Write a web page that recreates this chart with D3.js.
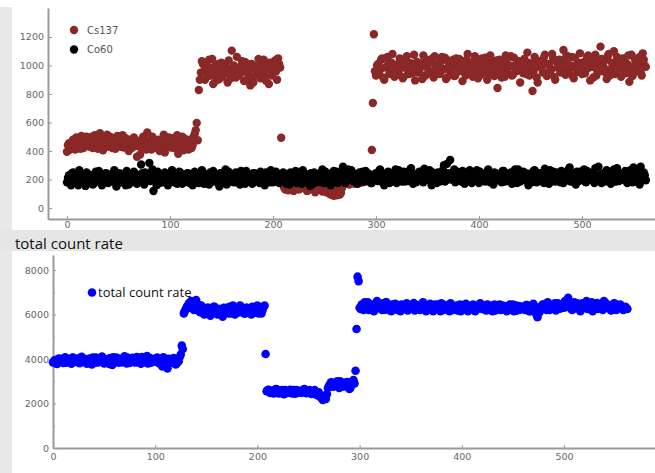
<!DOCTYPE html>
<html>
<head>
<meta charset="utf-8">
<script src="https://cdn.jsdelivr.net/npm/d3@7"></script>
<style>
  body { margin: 0; background: #fff; }
  svg { display: block; }
</style>
</head>
<body>
<div id="chart"></div>
<script>
// readings at even x (0, 2, 4 ... 562) and odd x (1, 3, 5 ... 561)
const cs137Even = [
  395, 455, 430, 480, 410, 470, 440, 505, 420, 460,
  485, 430, 500, 445, 470, 415, 525, 455, 480, 440,
  465, 500, 420, 490, 450, 475, 430, 510, 455, 470,
  400, 480, 440, 455, 360, 470, 425, 500, 445, 530,
  460, 410, 485, 435, 470, 400, 455, 515, 430, 475,
  445, 490, 420, 465, 380, 450, 500, 425, 470, 410,
  480, 440, 520, 597,
  828, 950, 1010, 900, 980, 1040, 930, 870, 995, 960,
  905, 1020, 945, 990, 880, 960, 1104, 1000, 915, 975,
  940, 1030, 890, 985, 950, 860, 1005, 925, 970, 1045,
  910, 980, 935, 1015, 870, 990, 950, 1035, 900, 1010,
  493,
  160, 130, 180, 145, 200, 120, 170, 150, 135, 190,
  140, 175, 125, 160, 205, 145, 130, 185, 150, 115,
  165, 110, 140, 95, 150, 120, 90, 135, 105, 170,
  190, 210, 165, 220, 180, 200, 230, 175, 215, 195,
  185, 220, 205,
  407, 1219,
  930, 1010, 970, 1050, 900, 990, 1030, 950, 1080, 920,
  1000, 960, 1040, 910, 985, 1065, 940, 1015, 970, 895,
  1025, 955, 990, 1070, 930, 1005, 960, 1045, 915, 980,
  1010, 940, 1060, 975, 905, 1035, 960, 995, 925, 1050,
  970, 1015, 890, 985, 1040, 950, 1000, 920, 1065, 960,
  1020, 935, 990, 1055, 900, 975, 1030, 945, 1005, 842,
  1040, 915, 985, 1070, 950, 1000, 930, 1055, 970, 1010,
  880, 995, 1045, 940, 1020, 965, 821, 1060, 915, 990,
  1030, 950, 1075, 925, 1005, 970, 1050, 900, 985, 1040,
  960, 1109, 935, 1015, 980, 1060, 910, 1000, 955, 1085,
  940, 1025, 970, 1070, 895, 990, 1045, 930, 1010, 1132,
  960, 1035, 905, 1080, 975, 1015, 940, 1060, 990, 920,
  1050, 965, 1010, 885, 1075, 945, 1025, 980, 1060, 930,
  1040, 990
];
const cs137Odd = [
  440, 410, 465, 425, 495, 450, 415, 480, 435, 500,
  455, 475, 420, 510, 440, 490, 460, 405, 470, 515,
  430, 480, 455, 415, 505, 445, 470, 425, 490, 440,
  460, 420, 495, 435, 470, 375, 450, 485, 410, 465,
  440, 500, 455, 420, 480, 445, 470, 390, 460, 495,
  425, 470, 450, 510, 435, 465, 405, 485, 440, 455,
  420, 500, 545, 475,
  900, 1030, 960, 1000, 925, 985, 1045, 945, 895, 1010,
  970, 920, 1000, 950, 1035, 910, 985, 940, 1060, 930,
  995, 955, 1025, 905, 970, 1010, 880, 990, 935, 1000,
  960, 1040, 895, 975, 1020, 930, 1000, 960, 1050, 985,
  175, 140, 195, 125, 160, 210, 145, 180, 130, 165,
  195, 150, 120, 185, 140, 170, 110, 155, 200, 135,
  145, 125, 160, 100, 130, 85, 115, 150, 95, 140,
  175, 205, 225, 185, 200, 170, 215, 190, 235, 180,
  210, 195, 225, 190,
  737, 960,
  1000, 955, 1040, 915, 985, 1060, 940, 1020, 975, 1005,
  935, 1050, 990, 920, 1030, 965, 1010, 945, 1075, 985,
  950, 1015, 905, 995, 1040, 965, 1020, 935, 1065, 990,
  945, 1025, 970, 1055, 915, 1000, 980, 1040, 930, 1010,
  1045, 960, 1005, 930, 1080, 975, 950, 1030, 985, 910,
  995, 1050, 960, 1015, 940, 1070, 985, 925, 1035, 975,
  955, 1010, 920, 1045, 990, 1065, 935, 1000, 960, 1030,
  1015, 945, 975, 1090, 930, 1005, 960, 1040, 880, 1020,
  985, 1055, 940, 1010, 965, 1080, 920, 1030, 995, 950,
  1035, 980, 1070, 945, 1000, 925, 1055, 970, 1020, 960,
  1010, 945, 1060, 985, 1030, 915, 1075, 960, 1000, 1045,
  990, 950, 1065, 930, 1020, 1100, 960, 1005, 1045, 975,
  1005, 945, 1070, 990, 925, 1050, 970, 1015, 950, 1085,
  1000
];

const co60Even = [
  180, 230, 160, 250, 200, 175, 265, 190, 215, 155,
  240, 185, 210, 170, 255, 195, 225, 160, 205, 245,
  175, 220, 190, 265, 150, 210, 235, 180, 200, 260,
  165, 225, 195, 240, 170, 215, 305, 185, 250, 200,
  316, 230, 119, 205, 255, 175, 220, 190, 240, 160,
  210, 265, 180, 230, 195, 250, 170, 215, 185, 240,
  200, 160, 255, 225, 175, 210, 245, 190, 230, 165,
  220, 260, 185, 205, 150, 240, 195, 270, 175, 215,
  230, 180, 250, 200, 165, 235, 210, 260, 190, 225,
  170, 245, 205, 185, 255, 220, 160, 235, 195, 265,
  180, 215, 240, 175, 200, 250, 190, 225, 165, 230,
  205, 260, 185, 220, 170, 245, 195, 235, 155, 210,
  250, 180, 225, 200, 270, 175, 215, 240, 160, 230,
  195, 255, 185, 220, 290, 175, 240, 205, 265, 190,
  225, 170, 250, 210, 185, 260, 195, 235, 175, 220,
  245, 190, 270, 205, 160, 230, 255, 180, 215, 240,
  175, 265, 200, 225, 185, 250, 210, 280, 170, 235,
  195, 255, 220, 180, 240, 205, 265, 160, 230, 210,
  250, 185, 225, 300, 195, 245, 337, 215, 270, 190,
  235, 205, 260, 170, 220, 250, 185, 230, 200, 265,
  175, 240, 210, 185, 255, 195, 225, 165, 245, 205,
  230, 180, 260, 215, 190, 245, 170, 235, 205, 270,
  185, 225, 250, 195, 160, 240, 210, 265, 180, 220,
  245, 190, 275, 205, 170, 235, 255, 185, 225, 200,
  260, 175, 230, 210, 285, 190, 245, 165, 220, 255,
  200, 270, 180, 235, 210, 250, 175, 225, 290, 195,
  240, 185, 265, 215, 170, 250, 205, 280, 190, 230,
  210, 260, 175, 245, 200, 285, 185, 235, 165, 225,
  250, 195
];
const co60Odd = [
  210, 170, 245, 195, 225, 160, 235, 205, 185, 250,
  200, 230, 165, 215, 190, 260, 175, 220, 240, 195,
  230, 185, 250, 205, 170, 245, 190, 220, 160, 235,
  215, 180, 255, 200, 230, 185, 245, 165, 225, 210,
  190, 270, 200, 160, 235, 215, 180, 250, 205, 225,
  185, 240, 215, 170, 255, 200, 230, 190, 245, 175,
  225, 205, 180, 240, 195, 265, 170, 220, 205, 250,
  185, 230, 210, 175, 245, 200, 225, 165, 255, 195,
  210, 240, 180, 225, 260, 195, 170, 235, 205, 185,
  245, 200, 225, 175, 215, 190, 250, 210, 180, 230,
  205, 255, 185, 220, 195, 240, 170, 210, 250, 190,
  230, 175, 215, 200, 265, 185, 225, 205, 245, 170,
  220, 195, 240, 180, 210, 255, 190, 225, 200, 260,
  215, 175, 245, 200, 230, 185, 270, 210, 195, 240,
  180, 225, 205, 255, 190, 215, 240, 175, 230, 200,
  215, 260, 185, 235, 200, 250, 175, 220, 195, 270,
  205, 240, 185, 255, 220, 190, 265, 200, 230, 180,
  245, 210, 185, 275, 200, 225, 190, 250, 215, 175,
  230, 205, 265, 185, 310, 220, 200, 240, 180, 255,
  210, 185, 245, 225, 195, 265, 175, 215, 240, 200,
  255, 190, 230, 205, 270, 180, 220, 250, 195, 235,
  200, 260, 185, 225, 210, 250, 190, 270, 175, 230,
  215, 255, 195, 240, 205, 180, 260, 220, 190, 245,
  210, 175, 230, 200, 265, 190, 220, 250, 205, 180,
  235, 215, 195, 270, 185, 225, 205, 255, 190, 240,
  225, 185, 260, 200, 240, 215, 280, 195, 230, 175,
  210, 255, 190, 235, 205, 270, 185, 225, 245, 200,
  240, 190, 225, 265, 180, 215, 255, 200, 290, 210,
  230
];

const totalEven = [
  3850, 3950, 3780, 4020, 3900, 3820, 4080, 3880, 3960, 3790,
  4050, 3870, 3930, 3810, 4100, 3900, 3980, 3840, 4020, 3760,
  3950, 4060, 3850, 3920, 4110, 3800, 3990, 3870, 4040, 3730,
  3900, 4070, 3830, 3960, 3880, 4120, 3800, 3980, 3910, 4050,
  3850, 4090, 3940, 3790, 4010, 3870, 4130, 3920, 3830, 4000,
  3890, 4060, 3800, 3950, 4080, 3860, 3580, 3990, 3900, 4040,
  3760, 3950, 4090, 4600,
  6050, 6250, 6400, 6300, 6550, 6200, 6650, 6450, 6100, 6350,
  6000, 6200, 6300, 5950, 6150, 6350, 6050, 6250, 6100, 5900,
  6200, 6300, 6050, 6150, 6400, 6000, 6250, 6100, 6350, 6150,
  6050, 6300, 6200, 6000, 6250, 6100, 6400, 6150, 6050, 6350,
  4225,
  2600, 2500, 2550, 2450, 2650, 2520, 2480, 2600, 2420, 2560,
  2500, 2620, 2450, 2540, 2600, 2480, 2570, 2510, 2650, 2460,
  2580, 2520, 2450, 2600, 2380, 2500, 2350, 2160, 2250, 2420,
  2800, 2950, 2750, 2880, 3000, 2700, 2850, 2920, 2780, 2960,
  2650, 2900, 3050,
  3475, 7700,
  6300, 6450, 6200, 6380, 6550, 6250, 6400, 6150, 6500, 6300,
  6420, 6200, 6350, 6560, 6280, 6180, 6450, 6320, 6250, 6400,
  6150, 6380, 6280, 6500, 6220, 6350, 6450, 6180, 6300, 6420,
  6250, 6550, 6320, 6200, 6400, 6280, 6150, 6450, 6330, 6250,
  6500, 6200, 6380, 6300, 6150, 6420, 6260, 6350, 6180, 6450,
  6300, 6220, 6480, 6150, 6350, 6280, 6400, 6200, 6330, 6500,
  6250, 6380, 6180, 6420, 6300, 6150, 6450, 6250, 6350, 6200,
  6400, 6280, 6150, 6330, 6220, 6450, 6300, 6180, 6380, 6260,
  6350, 6200, 6420, 6150, 6300, 6480, 6250, 5880, 6100, 6380,
  6450, 6280, 6550, 6200, 6400, 6320, 6180, 6500, 6260, 6420,
  6300, 6480, 6750, 6350, 6200, 6550, 6280, 6420, 6150, 6500,
  6330, 6600, 6250, 6450, 6150, 6380, 6520, 6280, 6400, 6200,
  6550, 6300, 6420, 6180, 6350, 6480, 6250, 6400, 6300, 6200,
  6350, 6250
];
const totalOdd = [
  3920, 3800, 4000, 3870, 3950, 4040, 3830, 3990, 3900, 4070,
  3880, 3960, 4030, 3850, 3940, 4010, 3790, 3970, 3890, 4060,
  3830, 3980, 3900, 4050, 3860, 3930, 4000, 3780, 3950, 4080,
  3870, 3940, 4010, 3850, 3990, 3900, 4060, 3820, 3960, 3880,
  4020, 3840, 3970, 4090, 3860, 3950, 3800, 4040, 3910, 3970,
  4030, 3850, 3920, 3660, 3980, 3880, 4010, 3820, 3940, 3870,
  3800, 3900, 4200, 4450,
  6150, 6350, 6500, 6600, 6250, 6450, 6300, 6150, 6400, 6200,
  6100, 6300, 6050, 6200, 6350, 6150, 6000, 6250, 6150, 6300,
  6100, 6250, 6350, 6050, 6200, 6300, 6100, 6400, 6200, 6050,
  6300, 6150, 6250, 6350, 6100, 6200, 6050, 6300, 6200, 6400,
  2550, 2620, 2470, 2580, 2520, 2640, 2450, 2550, 2500, 2610,
  2470, 2560, 2530, 2600, 2440, 2580, 2520, 2490, 2620, 2550,
  2500, 2600, 2430, 2540, 2480, 2420, 2300, 2250, 2330, 2200,
  2700, 2850, 2930, 2780, 2900, 2820, 3000, 2760, 2880, 2950,
  2850, 2700, 2980, 2900,
  5350, 7500,
  6250, 6400, 6550, 6300, 6200, 6450, 6350, 6250, 6600, 6280,
  6350, 6500, 6220, 6300, 6400, 6150, 6330, 6480, 6200, 6350,
  6450, 6250, 6350, 6180, 6400, 6300, 6520, 6250, 6380, 6200,
  6330, 6400, 6150, 6350, 6480, 6220, 6380, 6280, 6450, 6150,
  6300, 6420, 6250, 6350, 6500, 6200, 6330, 6400, 6280, 6150,
  6420, 6300, 6200, 6380, 6250, 6450, 6150, 6330, 6280, 6400,
  6300, 6200, 6450, 6280, 6350, 6400, 6180, 6320, 6450, 6250,
  6330, 6200, 6380, 6450, 6280, 6150, 6400, 6300, 6220, 6350,
  6280, 6420, 6300, 6150, 6380, 6250, 6000, 6200, 6350, 6450,
  6300, 6200, 6420, 6350, 6280, 6500, 6250, 6380, 6450, 6300,
  6600, 6400, 6550, 6250, 6450, 6350, 6500, 6280, 6400, 6330,
  6450, 6250, 6380, 6550, 6300, 6420, 6250, 6480, 6350, 6600,
  6300, 6420, 6250, 6380, 6500, 6200, 6350, 6450, 6300, 6250,
  6300
];

const topYTicks = [0, 200, 400, 600, 800, 1000, 1200];
const topXTicks = [0, 100, 200, 300, 400, 500];
const bottomYTicks = [0, 2000, 4000, 6000, 8000];
const bottomYMinor = [1000, 3000, 5000, 7000];
const bottomXTicks = [0, 100, 200, 300, 400, 500];
const seriesNames = ['Cs137', 'Co60'];
const totalName = 'total count rate';

const W = 655, H = 473;
const axisColor = '#9a9a9a';
const labelColor = '#666';
const csColor = '#8a2828';
const coColor = '#000';
const totalColor = '#0000ff';

// even/odd readings -> [x, value] pairs
function toPoints(even, odd) {
  return even.map((v, i) => [i * 2, v]).concat(odd.map((v, i) => [i * 2 + 1, v]));
}

const svg = d3.select('#chart').append('svg')
  .attr('width', W)
  .attr('height', H);

// window frame bits: left strip and the title band between panels
svg.append('rect').attr('x', 0).attr('y', 7).attr('width', 12).attr('height', H - 7).attr('fill', '#e8e8e8');
svg.append('rect').attr('x', 0).attr('y', 230).attr('width', W).attr('height', 21).attr('fill', '#e6e6e6');
svg.append('text')
  .attr('x', 15).attr('y', 249)
  .style('font-family', '"Open Sans", "Noto Sans", sans-serif')
  .style('font-size', '15px')
  .style('fill', '#111')
  .text(totalName);

function styleAxis(g) {
  g.select('.domain').attr('stroke', axisColor).attr('stroke-width', 2);
  g.selectAll('.tick line').attr('stroke', axisColor).attr('stroke-width', 1);
  g.selectAll('.tick text')
    .style('font-family', '"DejaVu Sans", sans-serif')
    .style('font-size', '9.5px')
    .style('fill', labelColor);
}

const fmt = d3.format('d');

// ---------- top panel ----------
const xTop = d3.scaleLinear().domain([-18.4, 570.9]).range([48, 655]);
const yTop = d3.scaleLinear().domain([-77, 1403]).range([219, 8]);

svg.append('g')
  .attr('transform', 'translate(0,219)')
  .call(d3.axisBottom(xTop).tickValues(topXTicks).tickFormat(fmt).tickSizeInner(-3).tickSizeOuter(0).tickPadding(2))
  .call(styleAxis);

svg.append('g')
  .attr('transform', 'translate(48,0)')
  .call(d3.axisLeft(yTop).tickValues(topYTicks).tickFormat(fmt).tickSizeInner(-4).tickSizeOuter(0).tickPadding(4))
  .call(styleAxis);

svg.append('g').selectAll('circle')
  .data(toPoints(cs137Even, cs137Odd))
  .join('circle')
  .attr('cx', d => xTop(d[0]))
  .attr('cy', d => yTop(d[1]))
  .attr('r', 4.2)
  .attr('fill', csColor);

svg.append('g').selectAll('circle')
  .data(toPoints(co60Even, co60Odd))
  .join('circle')
  .attr('cx', d => xTop(d[0]))
  .attr('cy', d => yTop(d[1]))
  .attr('r', 4.2)
  .attr('fill', coColor);

// legend
const legTop = svg.append('g');
seriesNames.forEach((name, i) => {
  legTop.append('circle')
    .attr('cx', 74).attr('cy', 30 + i * 19.5)
    .attr('r', 4.2)
    .attr('fill', i === 0 ? csColor : coColor);
  legTop.append('text')
    .attr('x', 87).attr('y', 30 + i * 19.5)
    .attr('dy', '0.35em')
    .style('font-family', '"DejaVu Sans", sans-serif')
    .style('font-size', '10px')
    .style('fill', '#555')
    .text(name);
});

// ---------- bottom panel ----------
const xBot = d3.scaleLinear().domain([0, 589]).range([53, 655]);
const yBot = d3.scaleLinear().domain([0, 8674]).range([448, 255]);

svg.append('g')
  .attr('transform', 'translate(53,0)')
  .call(d3.axisLeft(yBot).tickValues(bottomYMinor).tickSizeInner(-2).tickSizeOuter(0).tickFormat(''))
  .call(g => g.select('.domain').remove())
  .call(g => g.selectAll('.tick line').attr('stroke', axisColor));

svg.append('g')
  .attr('transform', 'translate(0,448)')
  .call(d3.axisBottom(xBot).tickValues(bottomXTicks).tickFormat(fmt).tickSizeInner(-3).tickSizeOuter(0).tickPadding(5))
  .call(styleAxis);

svg.append('g')
  .attr('transform', 'translate(53,0)')
  .call(d3.axisLeft(yBot).tickValues(bottomYTicks).tickFormat(fmt).tickSizeInner(-3).tickSizeOuter(0).tickPadding(4))
  .call(styleAxis);

svg.append('g').selectAll('circle')
  .data(toPoints(totalEven, totalOdd))
  .join('circle')
  .attr('cx', d => xBot(d[0]))
  .attr('cy', d => yBot(d[1]))
  .attr('r', 4.3)
  .attr('fill', totalColor);

svg.append('circle')
  .attr('cx', 92).attr('cy', 292.5)
  .attr('r', 4.3)
  .attr('fill', totalColor);
svg.append('text')
  .attr('x', 98).attr('y', 292.5)
  .attr('dy', '0.35em')
  .style('font-family', '"Open Sans", "Noto Sans", sans-serif')
  .style('font-size', '13px')
  .style('fill', '#111')
  .text(totalName);
</script>
</body>
</html>
